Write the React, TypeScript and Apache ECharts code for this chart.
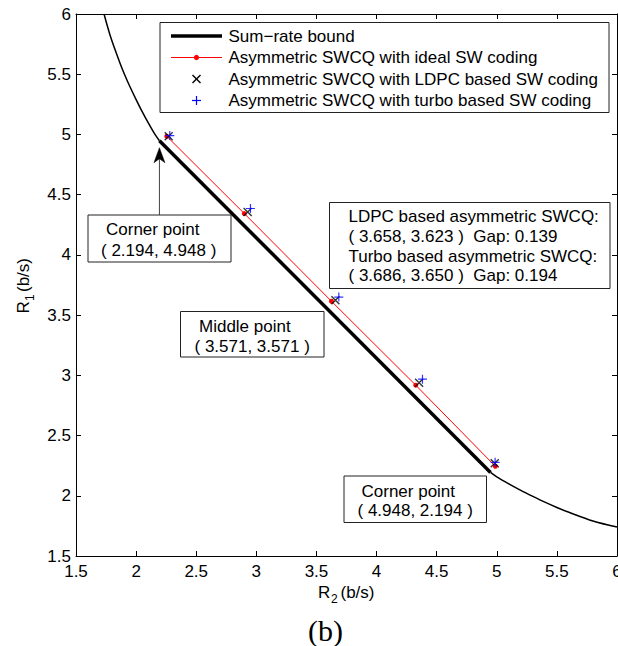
import React, { useEffect, useRef } from "react";
import * as echarts from "echarts";

// Axis ranges and ticks
const AXIS_MIN = 1.5;
const AXIS_MAX = 6;
const AXIS_STEP = 0.5;

// Sum-rate bound: corner points joined by the straight sum-rate segment
const cornerUpper: [number, number] = [2.194, 4.948];
const cornerLower: [number, number] = [4.948, 2.194];

// Curved parts of the rate-region boundary, [R2, R1]
const boundUpper: [number, number][] = [
  [1.733, 6.0], [1.791, 5.8], [1.863, 5.6], [1.903, 5.5], [1.947, 5.4],
  [1.995, 5.3], [2.045, 5.2], [2.099, 5.1], [2.157, 5.0], [2.194, 4.948],
];
const boundLower: [number, number][] = [
  [4.948, 2.194], [5.0, 2.157], [5.1, 2.099], [5.2, 2.045], [5.3, 1.995],
  [5.4, 1.947], [5.5, 1.903], [5.6, 1.863], [5.8, 1.791], [6.0, 1.74],
];

// Operating points, [R2, R1]
const idealSW: [number, number][] = [
  [2.255, 4.985], [2.9, 4.343], [3.625, 3.615], [4.326, 2.918], [4.988, 2.245],
];
const ldpcSW: [number, number][] = [
  [2.271, 4.986], [2.928, 4.357], [3.658, 3.623], [4.354, 2.939], [4.983, 2.27],
];
const turboSW: [number, number][] = [
  [2.28, 4.991], [2.951, 4.385], [3.686, 3.65], [4.382, 2.968], [4.986, 2.278],
];

const legendNames = [
  "Sum\u2212rate bound",
  "Asymmetric SWCQ with ideal SW coding",
  "Asymmetric SWCQ with LDPC based SW coding",
  "Asymmetric SWCQ with turbo based SW coding",
];

const infoLines = [
  "LDPC based asymmetric SWCQ:",
  "( 3.658, 3.623 )  Gap: 0.139",
  "Turbo based asymmetric SWCQ:",
  "( 3.686, 3.650 )  Gap: 0.194",
];

const FONT = "'Liberation Sans', Arial, Helvetica, sans-serif";
const FS = 17;
const CROSS = "path://M0,0L10,10M10,0L0,10";
const PLUS = "path://M5,0L5,10M0,5L10,5";

function axisCommon(showLabels: boolean, margin: number) {
  return {
    type: "value" as const,
    min: AXIS_MIN,
    max: AXIS_MAX,
    interval: AXIS_STEP,
    axisLine: { onZero: false, lineStyle: { color: "#000", width: 1 } },
    axisTick: { inside: true, length: 5, lineStyle: { color: "#000", width: 1 } },
    axisLabel: {
      show: showLabels,
      color: "#000",
      fontSize: FS,
      fontFamily: FONT,
      margin,
      showMinLabel: true,
      showMaxLabel: true,
    },
    splitLine: { show: false },
  };
}

function txt(x: number, y: number, text: string, extra: any = {}) {
  return {
    type: "text",
    x,
    y,
    style: {
      text,
      fill: "#000",
      font: `${FS}px ${FONT}`,
      verticalAlign: "middle",
      align: "left",
      ...extra,
    },
    z: 100,
  };
}

function box(x: number, y: number, w: number, h: number) {
  return {
    type: "rect",
    shape: { x, y, width: w, height: h },
    style: { fill: "#fff", stroke: "#222", lineWidth: 1 },
    z: 90,
  };
}

export default function App() {
  const ref = useRef<HTMLDivElement>(null);

  useEffect(() => {
    document.body.style.margin = "0";
    const chart = echarts.init(ref.current!, undefined, { renderer: "svg" });

    const option: any = {
      animation: false,
      backgroundColor: "#fff",
      grid: {
        left: 76,
        top: 14,
        width: 541,
        height: 542,
        containLabel: false,
        outerBoundsMode: "none",
      },
      xAxis: [
        { ...axisCommon(true, 7), position: "bottom" },
        { ...axisCommon(false, 7), position: "top" },
      ],
      yAxis: [
        { ...axisCommon(true, 5), position: "left" },
        { ...axisCommon(false, 5), position: "right" },
      ],
      series: [
        {
          name: legendNames[0],
          type: "line",
          data: [cornerUpper, cornerLower],
          symbol: "none",
          lineStyle: { color: "#000", width: 3.5 },
          z: 2,
        },
        {
          name: legendNames[0],
          type: "line",
          data: boundUpper,
          symbol: "none",
          smooth: 0.3,
          lineStyle: { color: "#000", width: 1.5 },
          z: 2,
        },
        {
          name: legendNames[0],
          type: "line",
          data: boundLower,
          symbol: "none",
          smooth: 0.3,
          lineStyle: { color: "#000", width: 1.5 },
          z: 2,
        },
        {
          name: legendNames[1],
          type: "line",
          data: idealSW,
          symbol: "circle",
          symbolSize: 5,
          showSymbol: true,
          itemStyle: { color: "#ff0000" },
          lineStyle: { color: "#ff0000", width: 1 },
          z: 3,
        },
        {
          name: legendNames[2],
          type: "scatter",
          data: ldpcSW,
          symbol: CROSS,
          symbolSize: 8,
          itemStyle: { color: "none", borderColor: "#000", borderWidth: 1.4 },
          z: 4,
        },
        {
          name: legendNames[3],
          type: "scatter",
          data: turboSW,
          symbol: PLUS,
          symbolSize: 9,
          itemStyle: { color: "none", borderColor: "#0000ff", borderWidth: 1.2 },
          z: 5,
        },
      ],
    };
    chart.setOption(option);

    // Arrow pointing at the upper corner point
    const tip = chart.convertToPixel({ gridIndex: 0 }, cornerUpper) as number[];
    const ax = tip[0];
    const ay = tip[1] + 7;

    // Legend
    const lx0 = 171;
    const lx1 = 222;
    const lxm = (lx0 + lx1) / 2;
    const rows = [36, 57.5, 79, 100.5];
    const legend: any[] = [
      box(160, 22.5, 449, 90),
      {
        type: "line",
        shape: { x1: lx0, y1: rows[0], x2: lx1, y2: rows[0] },
        style: { stroke: "#000", lineWidth: 3.5 },
        z: 100,
      },
      {
        type: "line",
        shape: { x1: lx0, y1: rows[1], x2: lx1, y2: rows[1] },
        style: { stroke: "#ff0000", lineWidth: 1 },
        z: 100,
      },
      { type: "circle", shape: { cx: lxm, cy: rows[1], r: 2.6 }, style: { fill: "#ff0000" }, z: 101 },
      {
        type: "polyline",
        shape: { points: [[lxm - 4, rows[2] - 4], [lxm + 4, rows[2] + 4]] },
        style: { stroke: "#000", lineWidth: 1.4 },
        z: 100,
      },
      {
        type: "polyline",
        shape: { points: [[lxm + 4, rows[2] - 4], [lxm - 4, rows[2] + 4]] },
        style: { stroke: "#000", lineWidth: 1.4 },
        z: 100,
      },
      {
        type: "line",
        shape: { x1: lxm, y1: rows[3] - 4.5, x2: lxm, y2: rows[3] + 4.5 },
        style: { stroke: "#0000ff", lineWidth: 1.2 },
        z: 100,
      },
      {
        type: "line",
        shape: { x1: lxm - 4.5, y1: rows[3], x2: lxm + 4.5, y2: rows[3] },
        style: { stroke: "#0000ff", lineWidth: 1.2 },
        z: 100,
      },
      ...legendNames.map((n, i) => txt(228.5, rows[i], n)),
    ];

    const annotations: any[] = [
      // LDPC / turbo summary
      box(329.5, 202.5, 280.5, 86),
      ...infoLines.map((t, i) => txt(348.5, 216.5 + i * 19.8, t)),
      // Middle point
      box(180.5, 311.5, 143.5, 45.5),
      txt(199, 326, "Middle point"),
      txt(194.5, 346, "( 3.571, 3.571 )"),
      // Upper corner point
      box(88, 215, 143, 47),
      txt(106, 229.5, "Corner point"),
      txt(101, 250, "( 2.194, 4.948 )"),
      // Lower corner point
      box(344, 476, 142.5, 46.5),
      txt(361.5, 491, "Corner point"),
      txt(357.5, 510.5, "( 4.948, 2.194 )"),
      // Arrow shaft and head
      {
        type: "line",
        shape: { x1: ax, y1: 215, x2: ax, y2: ay + 10 },
        style: { stroke: "#444", lineWidth: 1 },
        z: 95,
      },
      {
        type: "polygon",
        shape: {
          points: [
            [ax, ay],
            [ax - 5.5, ay + 15],
            [ax, ay + 11],
            [ax + 5.5, ay + 15],
          ],
        },
        style: { fill: "#000", stroke: "#000", lineWidth: 0.5 },
        z: 96,
      },
      // Axis titles
      txt(318, 592, "R"),
      txt(331, 599, "2", { font: `12px ${FONT}` }),
      txt(340.5, 592, "(b/s)"),
      {
        type: "group",
        x: 23,
        y: 313.5,
        rotation: Math.PI / 2,
        children: [
          txt(0, 0, "R"),
          txt(12.5, 7, "1", { font: `12px ${FONT}` }),
          txt(21.5, 0, "(b/s)"),
        ],
      },
      // Panel label
      txt(308, 630, "(b)", { font: `30px 'Liberation Serif', 'Times New Roman', serif` }),
    ];

    chart.setOption({ graphic: [...legend, ...annotations] });

    return () => chart.dispose();
  }, []);

  return <div ref={ref} style={{ width: 618, height: 646 }} />;
}
